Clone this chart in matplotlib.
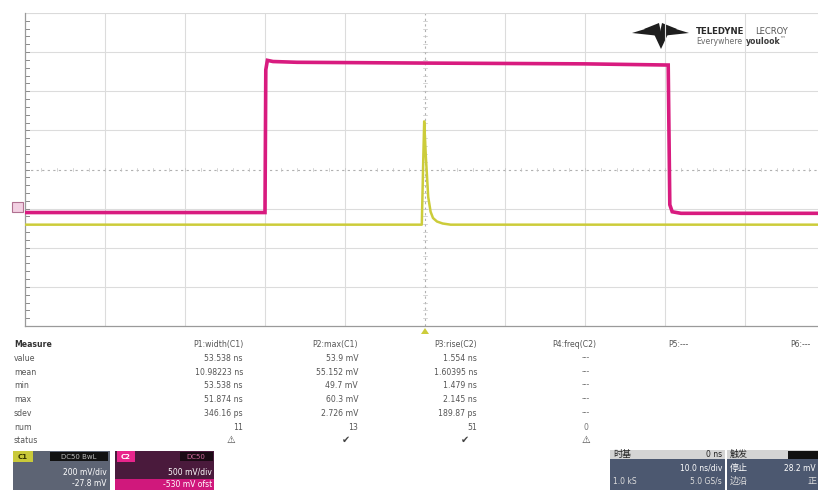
import matplotlib
matplotlib.use("Agg")
import matplotlib.pyplot as plt
from matplotlib.patches import Rectangle, Polygon

# 波形 (横: div, 縦: div)。C1 = パルス, C2 = 検出器の応答
c1_t_div = [0.0, 3.00, 3.01, 3.03, 3.10, 3.40, 5.00, 7.00, 8.04, 8.06, 8.09, 8.20, 9.92]
c1_v_div = [-1.10, -1.10, 2.55, 2.79, 2.76, 2.74, 2.72, 2.70, 2.67, -0.90, -1.08, -1.12, -1.12]

c2_t_div = [0.0, 4.96, 4.98, 4.99, 5.01, 5.04, 5.07, 5.10, 5.15, 5.22, 5.32, 9.92]
c2_v_div = [-1.41, -1.41, 0.40, 1.23, 0.35, -0.70, -1.08, -1.24, -1.33, -1.38, -1.41, -1.41]

# 測定テーブル
row_labels = ["Measure", "value", "mean", "min", "max", "sdev", "num", "status"]
param_names = ["P1:width(C1)", "P2:max(C1)", "P3:rise(C2)", "P4:freq(C2)", "P5:---", "P6:---"]
p1_values = ["53.538 ns", "10.98223 ns", "53.538 ns", "51.874 ns", "346.16 ps", "11", "\u26a0"]
p2_values = ["53.9 mV", "55.152 mV", "49.7 mV", "60.3 mV", "2.726 mV", "13", "\u2714"]
p3_values = ["1.554 ns", "1.60395 ns", "1.479 ns", "2.145 ns", "189.87 ps", "51", "\u2714"]
p4_values = ["---", "---", "---", "---", "---", "0", "\u26a0"]

W, H = 818, 494
MAGENTA = "#d81b7f"
YELLOW = "#cccc3a"

fig = plt.figure(figsize=(W / 100, H / 100), dpi=100)
fig.patch.set_facecolor("white")

# ピクセル座標で描く下地
ov = fig.add_axes([0, 0, 1, 1])
ov.set_xlim(0, W)
ov.set_ylim(H, 0)
ov.axis("off")

# 波形エリア: x 25..818 px, y 13..326 px, 80 px/div
x0, x1, y0, y1 = 25, 818, 13, 326
ax = fig.add_axes([x0 / W, 1 - y1 / H, (x1 - x0) / W, (y1 - y0) / H])
ax.set_xlim(0, (x1 - x0) / 80)
ax.set_ylim(-4, 4)
ax.patch.set_alpha(0)
ax.set_xticks([])
ax.set_yticks([])
for s in ("top", "right"):
    ax.spines[s].set_visible(False)
for s in ("left", "bottom"):
    ax.spines[s].set_color("#9a9a9a")
    ax.spines[s].set_linewidth(0.9)
ax.axhline(4, color="#dadada", lw=0.8)

for i in range(1, 10):
    if i == 5:
        continue
    ax.axvline(i, color="#dcdcdc", lw=0.8, zorder=0)
for j in range(-3, 4):
    if j == 0:
        continue
    ax.axhline(j, color="#dcdcdc", lw=0.8, zorder=0)

# 中心線とサブディビジョン目盛
ax.axvline(5, color="#b0b0b0", lw=0.8, ls=(0, (2, 3)), zorder=0)
ax.axhline(0, color="#b0b0b0", lw=0.8, ls=(0, (2, 3)), zorder=0)
for k in range(0, 50):
    xs = k * 0.2
    ax.plot([xs, xs], [-0.05, 0.05], color="#c4c4c4", lw=0.5, zorder=0)
for k in range(-20, 21):
    ys = k * 0.2
    ax.plot([4.975, 5.025], [ys, ys], color="#c4c4c4", lw=0.5, zorder=0)
    ax.plot([0, 0.05], [ys, ys], color="#8a8a8a", lw=0.7, zorder=1, clip_on=False)

ax.plot(c1_t_div, c1_v_div, color=MAGENTA, lw=2.6, zorder=3, solid_joinstyle="miter")
ax.plot(c2_t_div, c2_v_div, color=YELLOW, lw=1.8, zorder=4)

# グランドマーカーとトリガマーカー
ov.add_patch(Rectangle((12, 202), 11, 10, fc="#f2d0e2", ec="#b07090", lw=0.8, zorder=5))
ov.add_patch(Polygon([(421, 334), (429, 334), (425, 328)], closed=True, fc=YELLOW, ec="none"))

# ロゴ
logo = [
    [(632, 33), (655, 26), (660, 36)],
    [(644, 29), (659, 23), (662, 37)],
    [(689, 33), (666, 26), (661, 36)],
    [(677, 29), (662, 23), (659, 37)],
    [(654, 34), (668, 34), (661, 49)],
]
for tri in logo:
    ov.add_patch(Polygon(tri, closed=True, fc="#1e1e1e", ec="none"))
ov.text(696, 31, "TELEDYNE", fontsize=6.2, fontweight="bold", color="#2a2a2a", va="center")
ov.text(755, 31, "LECROY", fontsize=6.0, color="#555555", va="center")
ov.text(696, 41, "Everywhere", fontsize=5.6, color="#6a6a6a", va="center")
ov.text(746, 41, "youlook", fontsize=5.6, fontweight="bold", color="#3a3a3a", va="center")
ov.text(779, 40, "\u2122", fontsize=4.2, color="#6a6a6a", va="center")

# 測定テーブル
row_y = [344, 358, 372, 385, 399, 413, 427, 440]
col_right = [243, 358, 477, 596]
fs = 5.6
for label, y in zip(row_labels, row_y):
    ov.text(14, y, label, fontsize=fs, color="#333333" if label == "Measure" else "#555555",
            fontweight="bold" if label == "Measure" else "normal", va="center")
for name, xr in zip(param_names[:4], col_right):
    ov.text(xr, row_y[0], name, fontsize=fs, color="#555555", va="center", ha="right")
ov.text(668, row_y[0], param_names[4], fontsize=fs, color="#555555", va="center")
ov.text(790, row_y[0], param_names[5], fontsize=fs, color="#555555", va="center")
for values, xr in zip([p1_values, p2_values, p3_values], col_right[:3]):
    for v, y in zip(values, row_y[1:]):
        if v in ("\u26a0", "\u2714"):
            ov.text(xr - 12, y, v, fontsize=7, color="#444444", va="center", ha="center")
        else:
            ov.text(xr, y, v, fontsize=fs, color="#555555", va="center", ha="right")
for v, y in zip(p4_values, row_y[1:]):
    if v == "\u26a0":
        ov.text(586, y, v, fontsize=7, color="#444444", va="center", ha="center")
    else:
        ov.text(586, y, v, fontsize=fs, color="#777777", va="center", ha="center")

# チャンネル情報ボックス
ov.add_patch(Rectangle((13, 451), 97, 39, fc="#5d6474", ec="none"))
ov.add_patch(Rectangle((13, 451), 20, 11, fc="#c9c93a", ec="none"))
ov.add_patch(Rectangle((50, 452), 58, 9, fc="#111111", ec="none"))
ov.text(23, 456.5, "C1", fontsize=5, color="#333300", ha="center", va="center", fontweight="bold")
ov.text(79, 456.5, "DC50 BwL", fontsize=5, color="#bbbbbb", ha="center", va="center")
ov.text(107, 472, "200 mV/div", fontsize=5.5, color="white", ha="right", va="center")
ov.text(107, 483, "-27.8 mV", fontsize=5.5, color="white", ha="right", va="center")

ov.add_patch(Rectangle((115, 451), 99, 39, fc="#4a1a3c", ec="none"))
ov.add_patch(Rectangle((115, 479), 99, 11, fc="#d0187c", ec="none"))
ov.add_patch(Rectangle((117, 451), 18, 11, fc="#e8258c", ec="none"))
ov.add_patch(Rectangle((180, 452), 33, 9, fc="#1a0a14", ec="none"))
ov.text(126, 456.5, "C2", fontsize=5, color="white", ha="center", va="center", fontweight="bold")
ov.text(196, 456.5, "DC50", fontsize=5, color="#cc6699", ha="center", va="center")
ov.text(212, 472, "500 mV/div", fontsize=5.5, color="white", ha="right", va="center")
ov.text(212, 484, "-530 mV ofst", fontsize=5.5, color="white", ha="right", va="center")

# 时基 / 触发ボックス
cjk = ["Noto Sans CJK SC", "DejaVu Sans"]
ov.add_patch(Rectangle((610, 450), 115, 40, fc="#4c5870", ec="none"))
ov.add_patch(Rectangle((610, 450), 115, 9, fc="#d4d4d4", ec="none"))
ov.add_patch(Rectangle((727, 450), 91, 40, fc="#4c5870", ec="none"))
ov.add_patch(Rectangle((727, 450), 91, 9, fc="#d4d4d4", ec="none"))
ov.add_patch(Rectangle((788, 451), 30, 8, fc="#111111", ec="none"))
ov.text(613, 454.5, "时基", fontsize=6.5, color="#222222", va="center", family=cjk)
ov.text(722, 454.5, "0 ns", fontsize=5.5, color="#222222", va="center", ha="right")
ov.text(722, 468, "10.0 ns/div", fontsize=5.5, color="white", va="center", ha="right")
ov.text(613, 481, "1.0 kS", fontsize=5.5, color="#dddddd", va="center")
ov.text(722, 481, "5.0 GS/s", fontsize=5.5, color="#dddddd", va="center", ha="right")
ov.text(730, 454.5, "触发", fontsize=6.5, color="#222222", va="center", family=cjk)
ov.text(730, 468, "停止", fontsize=6.5, color="white", va="center", family=cjk)
ov.text(816, 468, "28.2 mV", fontsize=5.5, color="white", va="center", ha="right")
ov.text(730, 481, "边沿", fontsize=6.5, color="#dddddd", va="center", family=cjk)
ov.text(816, 481, "正", fontsize=6.5, color="#dddddd", va="center", ha="right", family=cjk)

fig.savefig("out.png", dpi=100, facecolor="white")
